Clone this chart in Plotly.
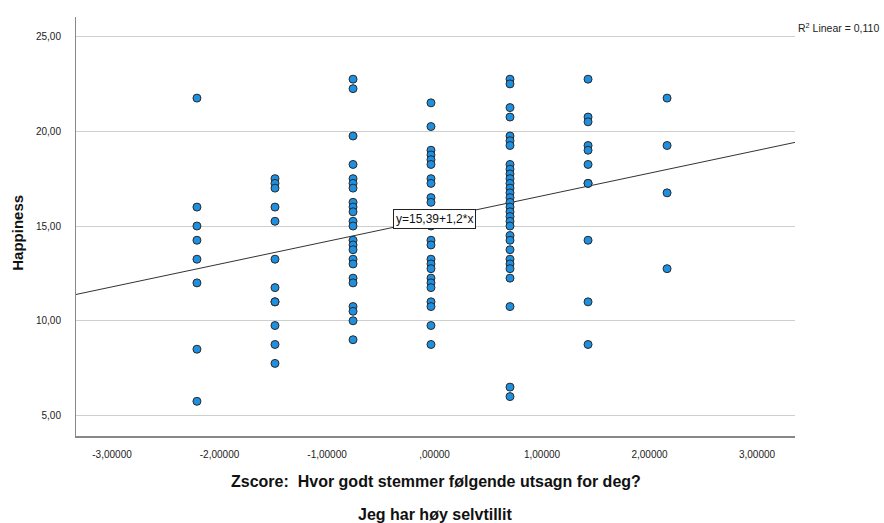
import plotly.graph_objects as go

# Column x positions (z-scores) and Happiness values per column
col_x = [-2.21, -1.484, -0.758, -0.033, 0.702, 1.428, 2.163]
col_values = [
    [21.75, 16.0, 15.0, 14.25, 13.25, 12.0, 8.5, 5.75],
    [17.5, 17.25, 17.0, 16.0, 15.25, 13.25, 11.75, 11.0, 11.0, 9.75, 8.75, 7.75],
    [22.75, 22.25, 19.75, 18.25, 17.5, 17.25, 17.0, 16.25, 16.0, 15.75, 15.25, 15.0,
     14.25, 14.0, 13.75, 13.25, 13.0, 12.25, 12.0, 10.75, 10.5, 10.0, 9.0],
    [21.5, 20.25, 19.0, 18.75, 18.5, 18.25, 17.5, 17.25, 16.5, 16.25, 15.0, 14.25,
     14.0, 13.25, 13.0, 12.75, 12.25, 12.0, 11.75, 11.0, 10.75, 9.75, 8.75],
    [22.75, 22.5, 21.25, 20.75, 19.75, 19.5, 19.25, 18.25, 18.0, 17.75, 17.5, 17.25,
     17.0, 16.75, 16.5, 16.25, 16.0, 15.75, 15.5, 15.25, 15.0, 14.5, 14.25, 13.75,
     13.25, 13.0, 12.75, 12.25, 10.75, 6.5, 6.0],
    [22.75, 20.75, 20.5, 19.25, 19.0, 18.25, 17.25, 17.25, 14.25, 11.0, 8.75],
    [21.75, 19.25, 16.75, 12.75],
]
intercept = 15.39
slope = 1.2
r2 = "0,110"
x_ticks = [-3, -2, -1, 0, 1, 2, 3]
x_tick_labels = ["-3,00000", "-2,00000", "-1,00000", ",00000", "1,00000", "2,00000", "3,00000"]
y_ticks = [5, 10, 15, 20, 25]
y_tick_labels = ["5,00", "10,00", "15,00", "20,00", "25,00"]
x_range = [-3.335, 3.353]
y_range = [3.92, 26.03]

xs, ys = [], []
for cx, vals in zip(col_x, col_values):
    for v in vals:
        xs.append(cx)
        ys.append(v)

fig = go.Figure()
fig.add_trace(go.Scatter(
    x=x_range, y=[intercept + slope * x for x in x_range],
    mode="lines", line=dict(color="#333333", width=1), hoverinfo="skip",
))
fig.add_trace(go.Scatter(
    x=xs, y=ys, mode="markers",
    marker=dict(size=8, color="#1f8fe0", line=dict(color="#2a2a2a", width=1)),
))

font_family = "Liberation Sans, Arial, sans-serif"
fig.update_layout(
    width=884, height=523,
    margin=dict(l=76, r=89, t=17, b=87, autoexpand=False),
    paper_bgcolor="white", plot_bgcolor="white",
    showlegend=False,
    font=dict(family=font_family, size=10, color="#222222"),
    xaxis=dict(
        range=x_range, tickvals=x_ticks, ticktext=x_tick_labels,
        showgrid=False, zeroline=False, showline=True, linecolor="#888888", linewidth=2,
        ticks="", ticklabelstandoff=8, tickfont=dict(size=10, color="#222222"),
        automargin=False,
    ),
    yaxis=dict(
        range=y_range, tickvals=y_ticks, ticktext=y_tick_labels,
        showgrid=True, gridcolor="#cfcfcf", gridwidth=1,
        zeroline=False, showline=True, linecolor="#888888", linewidth=1,
        ticks="", ticklabelstandoff=12, tickfont=dict(size=10, color="#222222"),
        automargin=False,
    ),
    annotations=[
        dict(text="<b>Happiness</b>", textangle=-90,
             xref="paper", yref="paper", x=-0.0807, y=0.485, xanchor="center", yanchor="middle",
             showarrow=False, font=dict(size=15, color="#111111")),
        dict(text="<b>Zscore:  Hvor godt stemmer følgende utsagn for deg?</b>",
             xref="paper", yref="paper", x=0.5, y=-0.1086, yanchor="middle",
             showarrow=False, font=dict(size=16, color="#111111")),
        dict(text="<b>Jeg har høy selvtillit</b>",
             xref="paper", yref="paper", x=0.5, y=-0.1885, yanchor="middle",
             showarrow=False, font=dict(size=16, color="#111111")),
        dict(text="R<sup>2</sup> Linear = " + r2,
             xref="paper", yref="paper", x=1.002, y=0.975, xanchor="left", yanchor="middle",
             showarrow=False, font=dict(size=10.5, color="#222222")),
        dict(text="y=15,39+1,2*x",
             xref="x", yref="y", x=0.0, y=15.37, xanchor="center", yanchor="middle",
             showarrow=False, bgcolor="white", bordercolor="#222222", borderwidth=1,
             borderpad=2, font=dict(size=12, color="#111111")),
    ],
)

fig.write_html("out.html",
               config={"displayModeBar": False},
               post_script="document.body.style.margin='0';document.body.style.overflow='hidden';")
